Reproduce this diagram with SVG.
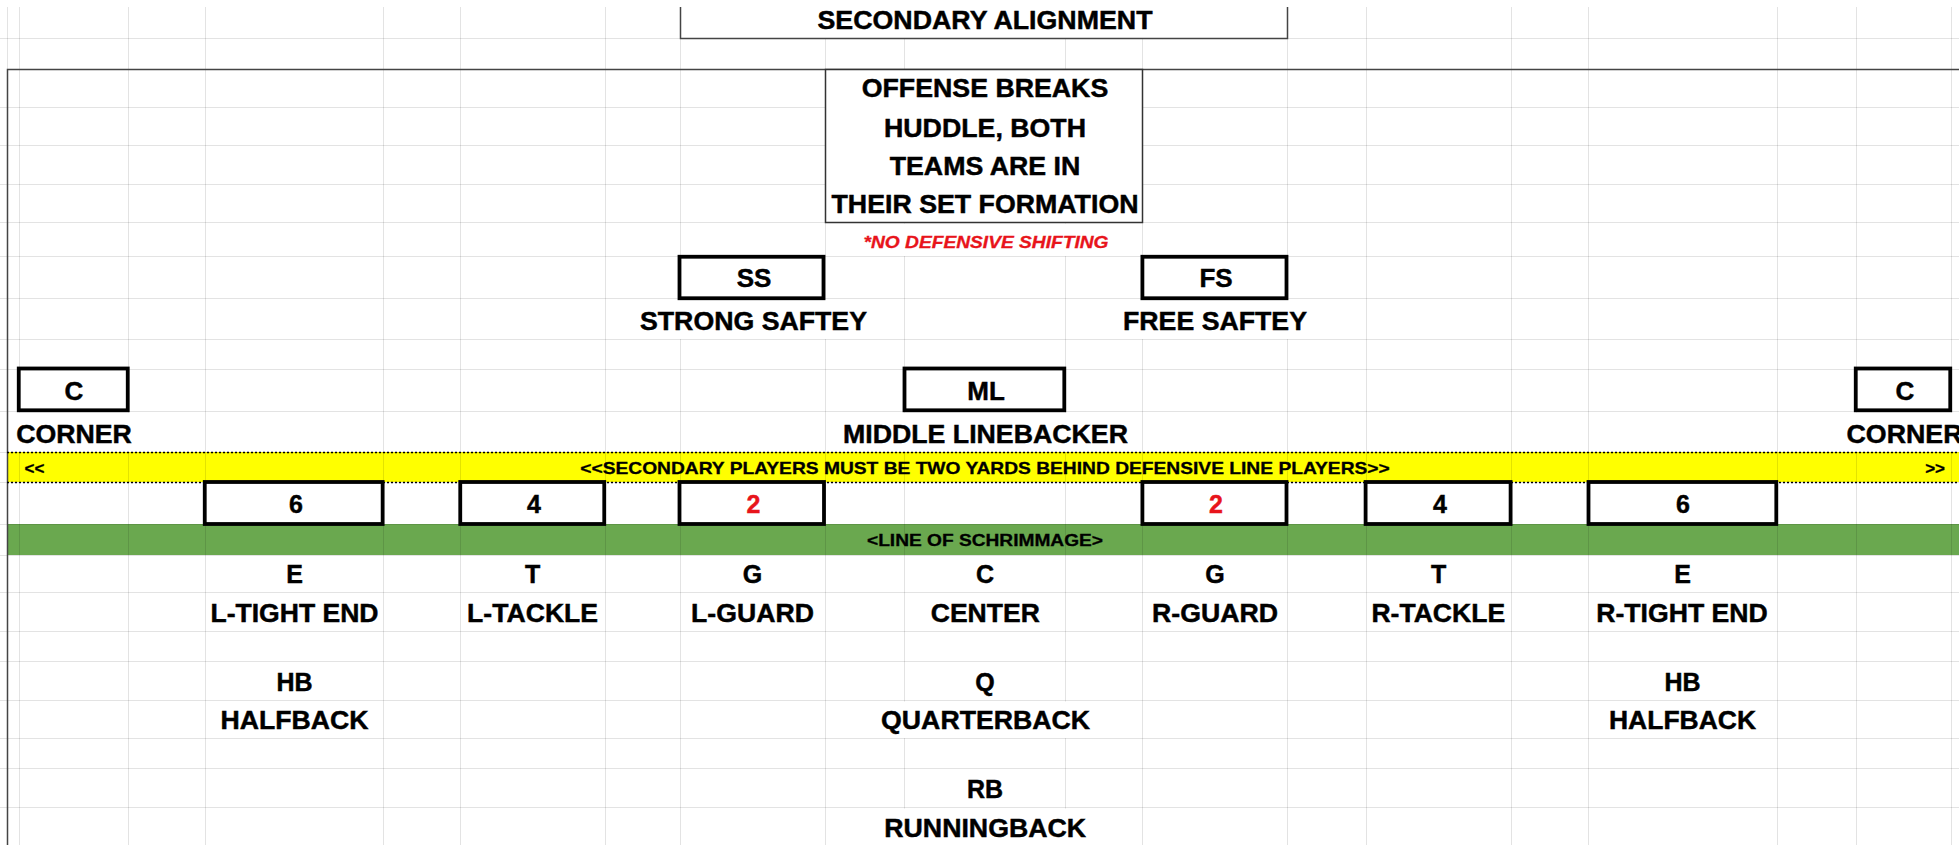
<svg xmlns="http://www.w3.org/2000/svg" width="1959" height="851" viewBox="0 0 1959 851">
<style>
.g{stroke:#000;stroke-opacity:.11;stroke-width:1;fill:none}
.dk{stroke:#444;stroke-width:1.5;fill:none}
.box{fill:#fff;stroke:#000;stroke-width:3.8}
.m{fill:#fff}
.t{font-family:"Liberation Sans",Arial,sans-serif;font-weight:bold;font-size:25px;text-anchor:middle;fill:#000;stroke:#000;stroke-width:.45}
.b{font-size:26px}
.n{font-size:25px}
.s{font-size:17px;stroke-width:.3}
.red{fill:#e8141b;stroke:#e8141b}
.dot{stroke:#000;stroke-width:1.3;stroke-dasharray:2 2;fill:none}
</style>
<rect width="1959" height="851" fill="#fff"/>
<g id="bands">
<rect x="7" y="452" width="1952" height="30" fill="#ffff00"/>
<rect x="7" y="524" width="1952" height="31" fill="#6aa84f"/>
</g>
<g id="grid">
<path class="g" d="M0 38.5H1959M0 107.5H1959M0 145.5H1959M0 184.5H1959M0 222.5H1959M0 256.5H1959M0 298.5H1959M0 339.5H1959M0 369.5H1959M0 411.5H1959M0 452.5H1959M0 482.5H1959M0 524.5H1959M0 555.5H1959M0 592.5H1959M0 631.5H1959M0 661.5H1959M0 700.5H1959M0 738.5H1959M0 768.5H1959M0 807.5H1959"/>
<path class="g" d="M7.5 7V69M19.5 7V845M128.5 7V845M205.5 7V845M383.5 7V845M460.5 7V845M605.5 7V845M680.5 7V845M825.5 7V845M904.5 7V845M1065.5 7V845M1142.5 7V845M1287.5 7V845M1366.5 7V845M1511.5 7V845M1588.5 7V845M1777.5 7V845M1856.5 7V845M1951.5 7V845"/>
</g>
<g id="masks">
<rect class="m" x="826.5" y="223.5" width="315" height="32.5"/>
<rect class="m" x="639" y="299.5" width="229" height="39.5"/>
<rect class="m" x="1121" y="299.5" width="188" height="39.5"/>
<rect class="m" x="14" y="412.5" width="120" height="39.5"/>
<rect class="m" x="842" y="412.5" width="288" height="39.5"/>
<rect class="m" x="1845" y="412.5" width="114" height="39.5"/>
<rect class="m" x="879" y="701.5" width="213" height="36.5"/>
<rect class="m" x="882" y="808.5" width="206" height="37"/>
<rect x="0" y="845" width="1959" height="6" fill="#fff"/>
<rect x="0" y="0" width="1959" height="7" fill="#fff"/>
</g>
<g id="frame">
<path class="dk" d="M7.5 845V69.5H1959"/>
<path class="dot" d="M7 452.5H1959M7 482.5H1959"/>
</g>
<g id="title">
<path d="M680.5 7V38.5H1287.5V7" fill="#fff" stroke="#444" stroke-width="1.5"/>
<text class="t" x="985" y="29" textLength="335" lengthAdjust="spacingAndGlyphs">SECONDARY ALIGNMENT</text>
</g>
<g id="note">
<rect x="825.5" y="69.5" width="317" height="153" fill="#fff" stroke="#333" stroke-width="1.5"/>
<text class="t" x="985" y="97.3" textLength="246.5" lengthAdjust="spacingAndGlyphs">OFFENSE BREAKS</text>
<text class="t" x="985" y="136.5" textLength="202" lengthAdjust="spacingAndGlyphs">HUDDLE, BOTH</text>
<text class="t" x="985" y="174.7" textLength="190.6" lengthAdjust="spacingAndGlyphs">TEAMS ARE IN</text>
<text class="t" x="985" y="212.7" textLength="307" lengthAdjust="spacingAndGlyphs">THEIR SET FORMATION</text>
</g>
<g id="warning">
<text class="t s red" x="986" y="248.3" font-style="italic" textLength="245" lengthAdjust="spacingAndGlyphs">*NO DEFENSIVE SHIFTING</text>
</g>
<g id="ss">
<rect class="box" x="679.5" y="256.75" width="144" height="41.5"/>
<text class="t b" x="754" y="286.5">SS</text>
<text class="t" x="753.5" y="330" textLength="227" lengthAdjust="spacingAndGlyphs">STRONG SAFTEY</text>
</g>
<g id="fs">
<rect class="box" x="1142.4" y="256.75" width="144.1" height="41.5"/>
<text class="t b" x="1216" y="286.5">FS</text>
<text class="t" x="1215" y="330" textLength="184" lengthAdjust="spacingAndGlyphs">FREE SAFTEY</text>
</g>
<g id="corner-left">
<rect class="box" x="18.75" y="368.5" width="109" height="41.8"/>
<text class="t b" x="74" y="399.5">C</text>
<text class="t" x="74" y="442.7" textLength="115.7" lengthAdjust="spacingAndGlyphs">CORNER</text>
</g>
<g id="ml">
<rect class="box" x="904.5" y="368.5" width="159.8" height="41.8"/>
<text class="t b" x="986" y="399.5">ML</text>
<text class="t" x="985.5" y="442.7" textLength="285" lengthAdjust="spacingAndGlyphs">MIDDLE LINEBACKER</text>
</g>
<g id="corner-right">
<rect class="box" x="1855.75" y="368.5" width="94.5" height="41.8"/>
<text class="t b" x="1905" y="399.5">C</text>
<text class="t" x="1846.5" y="442.7" style="text-anchor:start" textLength="116" lengthAdjust="spacingAndGlyphs">CORNER</text>
</g>
<g id="secondary-rule">
<text class="t s" x="24.5" y="474" style="text-anchor:start">&lt;&lt;</text>
<text class="t s" x="985" y="474" textLength="809.5" lengthAdjust="spacingAndGlyphs">&lt;&lt;SECONDARY PLAYERS MUST BE TWO YARDS BEHIND DEFENSIVE LINE PLAYERS&gt;&gt;</text>
<text class="t s" x="1945" y="474" style="text-anchor:end">&gt;&gt;</text>
</g>
<g id="dl-6-left"><rect class="box" x="204.75" y="482" width="177.9" height="42"/><text class="t n" x="296" y="512.8">6</text></g>
<g id="dl-4-left"><rect class="box" x="460.25" y="482" width="144" height="42"/><text class="t n" x="534" y="512.8">4</text></g>
<g id="dl-2-left"><rect class="box" x="679.5" y="482" width="144.5" height="42"/><text class="t n red" x="753.5" y="512.8">2</text></g>
<g id="dl-2-right"><rect class="box" x="1142.4" y="482" width="144.1" height="42"/><text class="t n red" x="1216" y="512.8">2</text></g>
<g id="dl-4-right"><rect class="box" x="1365.6" y="482" width="145" height="42"/><text class="t n" x="1440" y="512.8">4</text></g>
<g id="dl-6-right"><rect class="box" x="1588.5" y="482" width="187.8" height="42"/><text class="t n" x="1683" y="512.8">6</text></g>
<g id="scrimmage">
<text class="t" x="985" y="545.5" style="font-size:16px;stroke-width:.3" textLength="236" lengthAdjust="spacingAndGlyphs">&lt;LINE OF SCHRIMMAGE&gt;</text>
</g>
<g id="l-tight-end"><text class="t" x="294.5" y="583.3">E</text><text class="t" x="294.5" y="622.3" textLength="168" lengthAdjust="spacingAndGlyphs">L-TIGHT END</text></g>
<g id="l-tackle"><text class="t" x="532.6" y="583.3">T</text><text class="t" x="532.6" y="622.3" textLength="131" lengthAdjust="spacingAndGlyphs">L-TACKLE</text></g>
<g id="l-guard"><text class="t" x="752.6" y="583.3">G</text><text class="t" x="752.5" y="622.3" textLength="122.8" lengthAdjust="spacingAndGlyphs">L-GUARD</text></g>
<g id="center"><text class="t" x="985" y="583.3">C</text><text class="t" x="985.3" y="622.3" textLength="109" lengthAdjust="spacingAndGlyphs">CENTER</text></g>
<g id="r-guard"><text class="t" x="1215" y="583.3">G</text><text class="t" x="1215" y="622.3" textLength="126" lengthAdjust="spacingAndGlyphs">R-GUARD</text></g>
<g id="r-tackle"><text class="t" x="1438.7" y="583.3">T</text><text class="t" x="1438.3" y="622.3" textLength="133.7" lengthAdjust="spacingAndGlyphs">R-TACKLE</text></g>
<g id="r-tight-end"><text class="t" x="1682.5" y="583.3">E</text><text class="t" x="1682" y="622.3" textLength="171.5" lengthAdjust="spacingAndGlyphs">R-TIGHT END</text></g>
<g id="hb-left"><text class="t" x="294.6" y="690.7">HB</text><text class="t" x="294.6" y="729.3" textLength="148" lengthAdjust="spacingAndGlyphs">HALFBACK</text></g>
<g id="qb"><text class="t" x="985" y="690.7">Q</text><text class="t" x="985.6" y="729.3" textLength="209" lengthAdjust="spacingAndGlyphs">QUARTERBACK</text></g>
<g id="hb-right"><text class="t" x="1682.5" y="690.7">HB</text><text class="t" x="1682.5" y="729.3" textLength="147" lengthAdjust="spacingAndGlyphs">HALFBACK</text></g>
<g id="rb"><text class="t" x="985" y="798.3">RB</text><text class="t" x="985.2" y="836.7" textLength="201.8" lengthAdjust="spacingAndGlyphs">RUNNINGBACK</text></g>
</svg>
